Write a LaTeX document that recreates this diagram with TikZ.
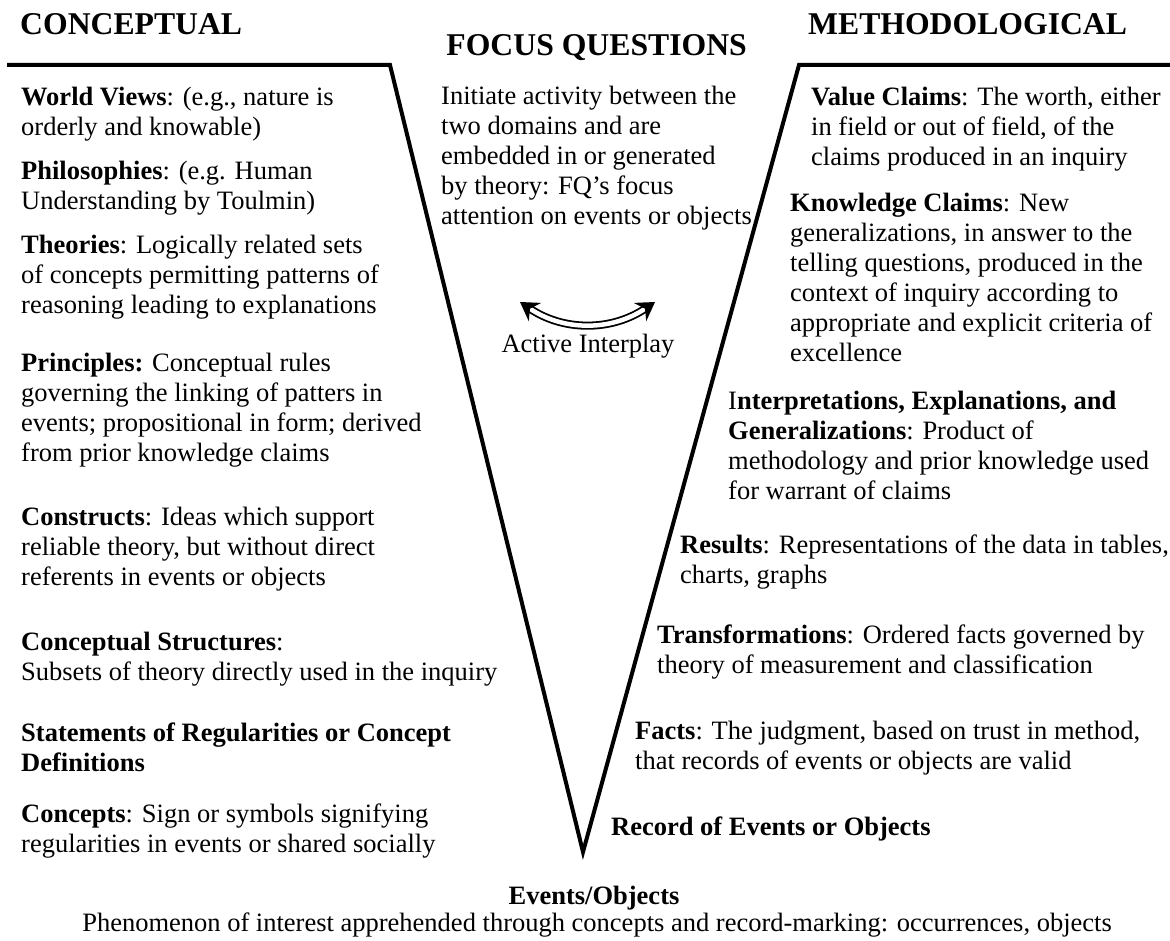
\documentclass[tikz,border=0pt]{standalone}
\usepackage{fontspec}
\setmainfont{Liberation Serif}
\usetikzlibrary{arrows.meta}

\begin{document}
\begin{tikzpicture}[x=1pt,y=-1pt,
	txt/.style={anchor=north west,align=left,inner sep=0pt,font=\fontsize{26.5}{30}\selectfont},
	plain/.style={inner sep=0pt,font=\fontsize{26.5}{30}\selectfont},
	head/.style={inner sep=0pt,font=\fontsize{31.7}{36}\selectfont\bfseries},
	vline/.style={line width=4pt}]
		\useasboundingbox (0,0) rectangle (1170,941);
		% the V
		\coordinate (lt) at (7,65);
		\coordinate (lc) at (390,65);
		\coordinate (vb) at (583,852);
		\coordinate (rc) at (799,65);
		\coordinate (rt) at (1170,65);
		\draw[vline] (lt) -- (lc) -- (vb) -- (rc) -- (rt);
		% headings
		\node (cp) [head,anchor=west] at (20,24) {CONCEPTUAL};
		\node (me) [head,anchor=west] at (808,24) {METHODOLOGICAL};
		\node (fq) [head,anchor=east] at (747,48) {FOCUS QUESTIONS};
		% conceptual side
		\node (wv) [txt] at (21,87) {\textbf{World Views}: (e.g., nature is\\orderly and knowable)};
		\node (ph) [txt] at (21,161) {\textbf{Philosophies}: (e.g. Human\\Understanding by Toulmin)};
		\node (th) [txt] at (21,235) {\textbf{Theories}: Logically related sets\\of concepts permitting patterns of\\reasoning leading to explanations};
		\node (pr) [txt] at (21,353) {\textbf{Principles:} Conceptual rules\\governing the linking of patters in\\events; propositional in form; derived\\from prior knowledge claims};
		\node (co) [txt] at (21,507) {\textbf{Constructs}: Ideas which support\\reliable theory, but without direct\\referents in events or objects};
		\node (cs) [txt] at (21,632) {\textbf{Conceptual Structures}:\\Subsets of theory directly used in the inquiry};
		\node (sr) [txt] at (21,723) {\textbf{Statements of Regularities or Concept}\\\textbf{Definitions}};
		\node (cc) [txt] at (21,804) {\textbf{Concepts}: Sign or symbols signifying\\regularities in events or shared socially};
		% focus questions
		\node (fqt) [txt] at (441,86) {Initiate activity between the\\two domains and are\\embedded in or generated\\by theory: FQ’s focus\\attention on events or objects};
		\coordinate (al) at (520,302);
		\coordinate (ar) at (655,302);
		\draw[line width=1.8pt,double distance=4.5pt,{Stealth[length=18pt,width=22pt,inset=6pt]}-{Stealth[length=18pt,width=22pt,inset=6pt]}] (al) to[bend right=34] (ar);
		\node (ai) [plain] at (588,346) {Active Interplay};
		% methodological side
		\node (vc) [txt] at (811,87) {\textbf{Value Claims}: The worth, either\\in field or out of field, of the\\claims produced in an inquiry};
		\node (kc) [txt] at (790,193) {\textbf{Knowledge Claims}: New\\generalizations, in answer to the\\telling questions, produced in the\\context of inquiry according to\\appropriate and explicit criteria of\\excellence};
		\node (ie) [txt] at (728,391) {I\textbf{nterpretations, Explanations, and}\\\textbf{Generalizations}: Product of\\methodology and prior knowledge used\\for warrant of claims};
		\node (rs) [txt] at (680,535) {\textbf{Results}: Representations of the data in tables,\\charts, graphs};
		\node (tf) [txt] at (657,625) {\textbf{Transformations}: Ordered facts governed by\\theory of measurement and classification};
		\node (fa) [txt] at (635,721) {\textbf{Facts}: The judgment, based on trust in method,\\that records of events or objects are valid};
		\node (re) [txt] at (611,817) {\textbf{Record of Events or Objects}};
		% events
		\node (eo) [plain,anchor=base,font=\fontsize{26.5}{30}\selectfont\bfseries] at (594,904) {Events/Objects};
		\node (pn) [plain,anchor=base] at (597,931) {Phenomenon of interest apprehended through concepts and record-marking: occurrences, objects};
	\end{tikzpicture}
\end{document}
